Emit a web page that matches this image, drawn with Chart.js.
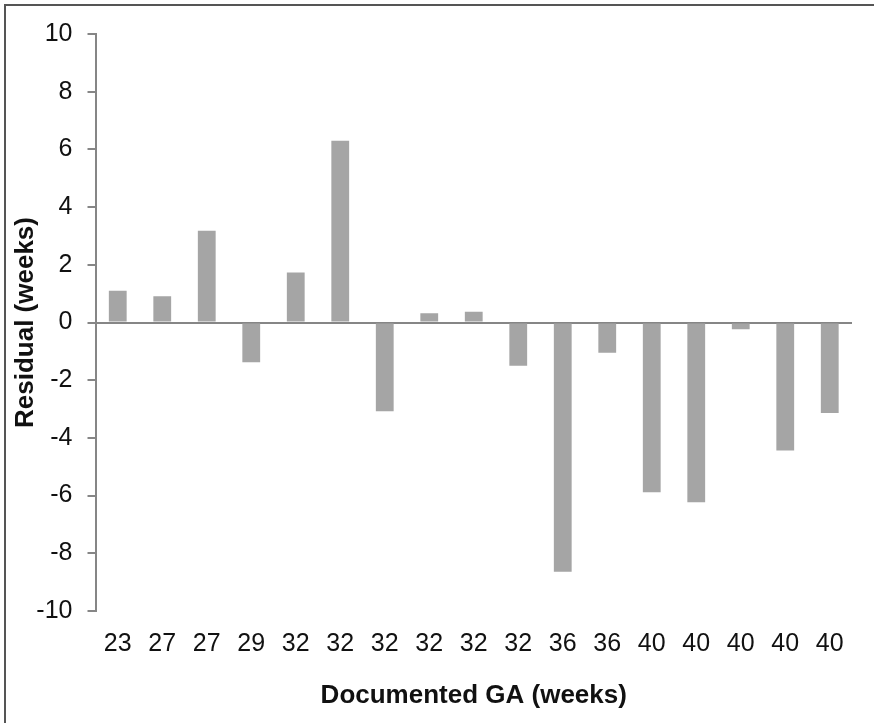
<!DOCTYPE html>
<html>
<head>
    <title>Residual by documented GA</title>
    <meta charset="utf-8">
    <style>
        body{ margin:0; background:#fff; font-family:"Liberation Sans", Arial, sans-serif;}
        .frame{position:absolute; left:4px; top:4px; width:880px; height:730px; border-left:2px solid #555; border-top:2px solid #555; pointer-events:none}
        .wrap{position:absolute; left:0; top:4px; width:874px; height:719px}
    </style>
    <script src="https://cdn.jsdelivr.net/npm/chart.js@4.4.0/dist/chart.umd.min.js"></script>
</head>
<body>
    <div class="wrap"><canvas id="myChart"></canvas></div>
    <div class="frame"></div>

    <script>
        // data
        var gaLabels = ['23','27','27','29','32','32','32','32','32','32','36','36','40','40','40','40','40'];
        var residuals = [1.10, 0.91, 3.18, -1.38, 1.73, 6.30, -3.08, 0.32, 0.37, -1.50, -8.64, -1.05, -5.88, -6.23, -0.23, -4.44, -3.14];
        var yTicks = [-10, -8, -6, -4, -2, 0, 2, 4, 6, 8, 10];

        var axisGrey = '#868686';
        var fam = '"Liberation Sans", Arial, sans-serif';

        const config = {
            type: 'bar',
            data: {
                labels: gaLabels,
                datasets: [{
                    label: 'Residual',
                    backgroundColor: '#a5a5a5',
                    data: residuals,
                    barPercentage: 0.4,
                    categoryPercentage: 1.0
                }]
            },
            options: {
                animation: false,
                responsive: true,
                maintainAspectRatio: false,
                layout: { padding: { left: 10, right: 22, top: 24, bottom: 0 } },
                plugins: { legend: { display: false }, tooltip: { enabled: false } },
                scales: {
                    x: {
                        grid: { display: false },
                        border: { display: false },
                        ticks: {
                            color: '#111',
                            padding: 10,
                            maxRotation: 0,
                            autoSkip: false,
                            font: { family: fam, size: 25 }
                        },
                        title: {
                            display: true,
                            text: 'Documented GA (weeks)',
                            color: '#111',
                            padding: { top: 0, bottom: 12 },
                            font: { family: fam, size: 26, weight: 'bold' }
                        },
                        afterFit: function(s){ s.height = 112; }
                    },
                    y: {
                        min: -10,
                        max: 10,
                        afterBuildTicks: function(s){ s.ticks = yTicks.map(function(v){ return { value: v }; }); },
                        border: { display: true, color: axisGrey, width: 2 },
                        grid: {
                            drawOnChartArea: true,
                            color: function(c){ return c.tick && c.tick.value === 0 ? axisGrey : 'rgba(0,0,0,0)'; },
                            lineWidth: 2,
                            tickColor: axisGrey,
                            tickLength: 8
                        },
                        ticks: {
                            color: '#111',
                            padding: 15,
                            font: { family: fam, size: 25 }
                        },
                        title: {
                            display: true,
                            text: 'Residual (weeks)',
                            color: '#111',
                            padding: { top: 0, bottom: 0 },
                            font: { family: fam, size: 26, weight: 'bold' }
                        },
                        afterFit: function(s){ s.width = 85.5; }
                    }
                }
            }
        };
        var myChart = new Chart(document.getElementById('myChart'), config);
    </script>
</body>
</html>
